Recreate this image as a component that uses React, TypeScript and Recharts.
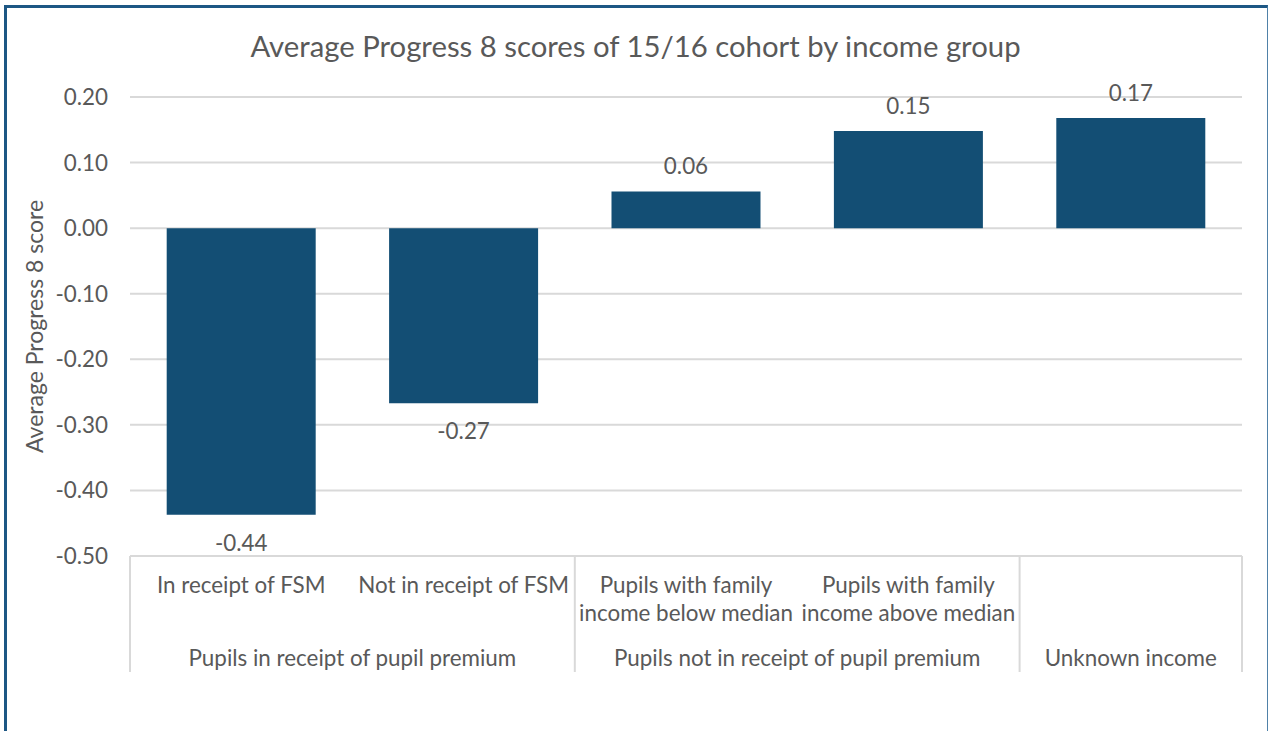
import React from "react";
import { BarChart, Bar, XAxis, YAxis, CartesianGrid, LabelList } from "recharts";

const categories = [
  "In receipt of FSM",
  "Not in receipt of FSM",
  "Pupils with family\nincome below median",
  "Pupils with family\nincome above median",
  "",
];
const groups = [
  "Pupils in receipt of pupil premium",
  "Pupils in receipt of pupil premium",
  "Pupils not in receipt of pupil premium",
  "Pupils not in receipt of pupil premium",
  "Unknown income",
];
const scores = [-0.437, -0.267, 0.056, 0.148, 0.168];
const yTicks = [-0.5, -0.4, -0.3, -0.2, -0.1, 0, 0.1, 0.2];

const data = categories.map((c, i) => ({ category: c, group: groups[i], score: scores[i] }));

const W = 1271;
const H = 731;
const MARGIN = { top: 97, right: 29, bottom: 55, left: 30 };
const Y_AXIS_W = 100;
const TEXT = "#595959";
const GRID = "#d9d9d9";
const BAR = "#134e74";
const FONT = "Lato, 'Open Sans', sans-serif";
const FS = 22.4;

const CategoryTick = (props: any) => {
  const { x, y, index, visibleTicksCount } = props;
  const count = visibleTicksCount || categories.length;
  const axisW = typeof props.width === "number" && props.width > 0
    ? props.width
    : W - MARGIN.left - MARGIN.right - Y_AXIS_W;
  const band = axisW / count;
  const lines = categories[index] ? categories[index].split("\n") : [];
  const els: any[] = [];
  lines.forEach((ln, k) => {
    els.push(
      <text key={"c" + k} x={x} y={y + 37 + k * 28} textAnchor="middle" fill={TEXT} fontSize={FS}>
        {ln}
      </text>
    );
  });
  const isGroupStart = index === 0 || groups[index] !== groups[index - 1];
  if (isGroupStart) {
    let n = 1;
    while (index + n < groups.length && groups[index + n] === groups[index]) n++;
    const left = x - band / 2;
    const right = left + n * band;
    els.push(<line key="l" x1={left} x2={left} y1={y} y2={y + 116} stroke={GRID} strokeWidth={2} />);
    if (index + n >= groups.length) {
      els.push(<line key="r" x1={right} x2={right} y1={y} y2={y + 116} stroke={GRID} strokeWidth={2} />);
    }
    els.push(
      <text key="g" x={(left + right) / 2} y={y + 110} textAnchor="middle" fill={TEXT} fontSize={FS}>
        {groups[index]}
      </text>
    );
  }
  return <g>{els}</g>;
};

const ValueLabel = (props: any) => {
  const { x, y, width, height, value } = props;
  const top = Math.min(y, y + height);
  const bottom = Math.max(y, y + height);
  const cx = x + width / 2;
  const ty = value >= 0 ? top - 17 : bottom + 36;
  return (
    <text x={cx} y={ty} textAnchor="middle" fill={TEXT} fontSize={FS}>
      {Number(value).toFixed(2)}
    </text>
  );
};

export default function App() {
  return (
    <div style={{ position: "fixed", left: 0, top: 0, width: W, height: H, background: "#fff", fontFamily: FONT }}>
      <div
        style={{
          position: "absolute",
          left: 4,
          top: 5,
          width: 1260,
          height: 760,
          borderLeft: "3px solid #1d5784",
          borderTop: "3px solid #1d5784",
          borderRight: "1px solid #4f81a8",
        }}
      />
      <div
        style={{
          position: "absolute",
          left: 0,
          top: 27,
          width: W,
          textAlign: "center",
          fontSize: 29.3,
          lineHeight: "38px",
          color: TEXT,
          fontFamily: FONT,
        }}
      >
        Average Progress 8 scores of 15/16 cohort by income group
      </div>
      <div style={{ position: "absolute", left: 0, top: 0 }}>
        <BarChart width={W} height={H} data={data} margin={MARGIN} barCategoryGap="16.5%">
          <CartesianGrid vertical={false} stroke={GRID} strokeWidth={2} />
          <XAxis
            dataKey="category"
            interval={0}
            tickLine={false}
            tickSize={0}
            tickMargin={0}
            height={120}
            axisLine={{ stroke: GRID, strokeWidth: 2 }}
            tick={<CategoryTick />}
          />
          <YAxis
            width={Y_AXIS_W}
            domain={[-0.5, 0.2]}
            ticks={yTicks}
            interval={0}
            axisLine={false}
            tickLine={false}
            tickSize={0}
            tickMargin={22}
            tickFormatter={(v: number) => v.toFixed(2)}
            tick={{ fill: TEXT, fontSize: FS }}
            label={{
              value: "Average Progress 8 score",
              angle: -90,
              position: "center",
              dx: -45,
              fill: TEXT,
              fontSize: 23,
            }}
          />
          <Bar dataKey="score" fill={BAR} isAnimationActive={false}>
            <LabelList dataKey="score" content={<ValueLabel />} />
          </Bar>
        </BarChart>
      </div>
    </div>
  );
}
